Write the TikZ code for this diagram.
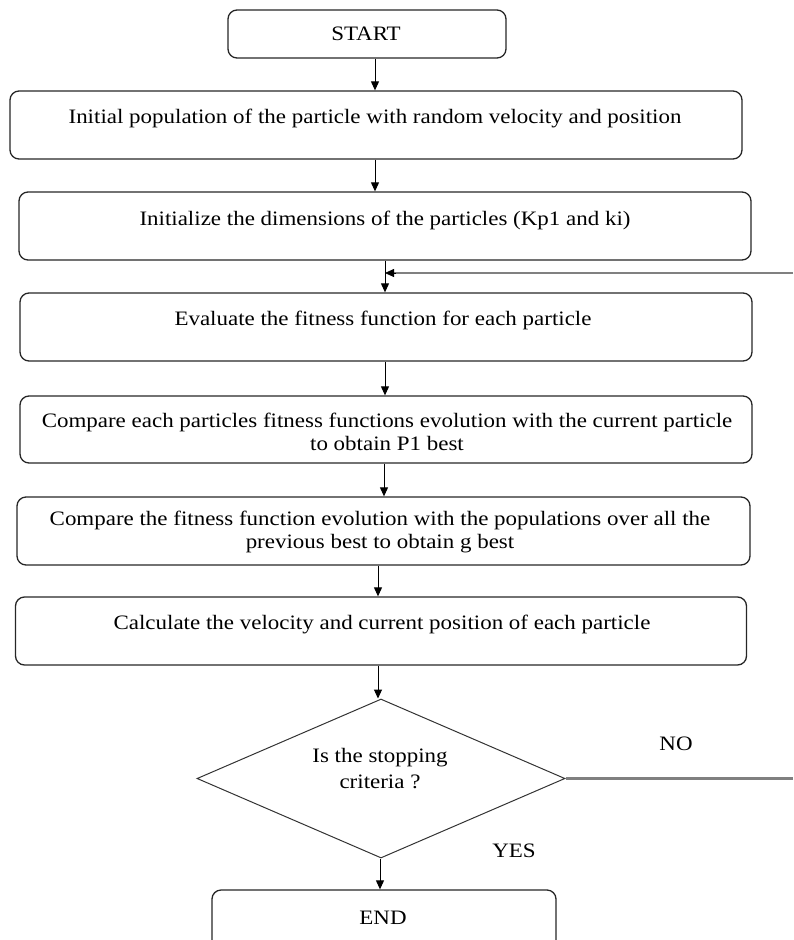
\documentclass[tikz,border=0pt]{standalone}
\usepackage{fontspec}
\setmainfont{Liberation Serif}[FakeStretch=1.12]
\usetikzlibrary{shapes.geometric,arrows.meta}
\begin{document}
\begin{tikzpicture}[x=1pt,y=-1pt,
  box/.style={draw=black!85,line width=1.3pt,rounded corners=9pt,inner sep=0pt},
  txt/.style={font=\fontsize{20.5}{23}\selectfont,align=center,inner sep=0pt},
  flow/.style={draw=black,line width=1pt,-{Triangle[length=9pt,width=8pt]}},
  loopline/.style={draw=black!50,line width=2.5pt}]
\useasboundingbox (0,0) rectangle (793,940);
% boxes
\node[box,minimum width=278pt,minimum height=48pt] (start) at (367,34) {};
\node[txt] at (366,34) {START};
\node[box,minimum width=732pt,minimum height=68pt] (b1) at (376,125) {};
\node[txt] at (375,118) {Initial population of the particle with random velocity and position};
\node[box,minimum width=732pt,minimum height=68pt] (b2) at (385,226) {};
\node[txt] at (385,220) {Initialize the dimensions of the particles (Kp1 and ki)};
\node[box,minimum width=732pt,minimum height=68pt] (b3) at (386,327) {};
\node[txt] at (383,320) {Evaluate the fitness function for each particle};
\node[box,minimum width=732pt,minimum height=67pt] (b4) at (386,429.5) {};
\node[txt] at (387,432) {Compare each particles fitness functions evolution with the current particle\\to obtain P1 best};
\node[box,minimum width=733pt,minimum height=68pt] (b5) at (383.5,531) {};
\node[txt] at (380,532) {Compare the fitness function evolution with the populations over all the\\previous best to obtain g best};
\node[box,minimum width=731pt,minimum height=68pt] (b6) at (381,631) {};
\node[txt] at (382,624) {Calculate the velocity and current position of each particle};
\node[draw=black!80,line width=1pt,diamond,inner sep=0pt,minimum width=368pt,minimum height=159pt] (dec) at (381,778.5) {};
\node[txt,font=\fontsize{20.5}{26}\selectfont] at (380,769) {Is the stopping\\criteria ?};
\node[box,minimum width=344pt,minimum height=60pt] (end) at (384,920) {};
\node[txt] at (383,918) {END};
\node[txt] at (676,744) {NO};
\node[txt] at (514,851) {YES};
% connectors
\draw[flow] (start.south -| 375,0) -- (b1.north -| 375,0);
\draw[flow] (b1.south -| 375,0) -- (b2.north -| 375,0);
\draw[flow] (b2.south -| 385,0) -- (b3.north -| 385,0);
\draw[flow] (b3.south -| 385,0) -- (b4.north -| 385,0);
\draw[flow] (b4.south -| 384,0) -- (b5.north -| 384,0);
\draw[flow] (b5.south -| 378,0) -- (b6.north -| 378,0);
\draw[flow] (b6.south -| 378,0) -- (dec.north -| 378,0);
\draw[flow] (dec.south -| 380,0) -- (end.north -| 380,0);
\coordinate (rbot) at (793,778.5);
\coordinate (rtop) at (793,273);
\coordinate (join) at (385,273);
\draw[loopline] (dec.east) -- (rbot);
\draw[loopline] (rtop) -- (390,273);
\draw[black,line width=0.8pt,-{Triangle[length=9pt,width=8pt]}] (396,273) -- (join);
\end{tikzpicture}
\end{document}
